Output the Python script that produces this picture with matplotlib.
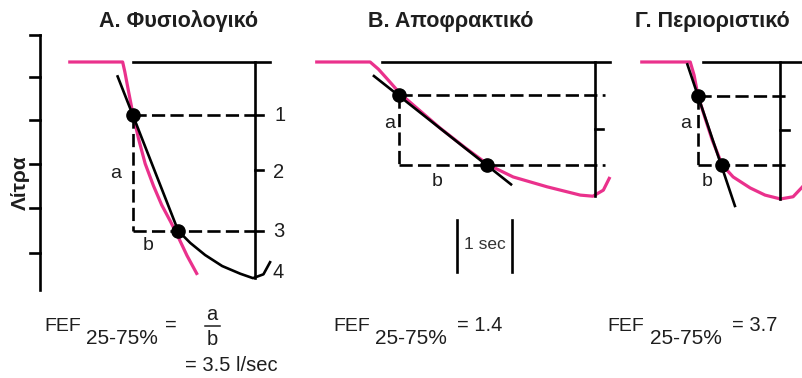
import numpy as np
import matplotlib
matplotlib.use('Agg')
import matplotlib.pyplot as plt

W, H = 803, 378
PX = 55.0        # pixels per second and per litre
Y0 = 62          # pixel row where v = 0

PINK = '#ea318c'
INK = '#1e1e1e'
LW = 1.9
DASH = (0, (5, 2))

TITLES = ['Α. Φυσιολογικό', 'Β. Αποφρακτικό', 'Γ. Περιοριστικό']
TITLE_X = [179, 451, 712]
PANEL_T0 = [1.24, 5.73, 11.64]   # start of each trace, s

# left "Λίτρα" axis (global time, litres)
LEFT_AXIS_T = 0.73
LEFT_TICKS = [-0.49, 0.27, 1.05, 1.85, 2.65, 3.47]
LEFT_BOTTOM = 4.15

# ── A. normal ──────────────────────────────────────────────────────────────
A_PINK_T = [0, 0.99, 1.03, 1.10, 1.18, 1.28, 1.40, 1.55, 1.70, 1.86, 1.99, 2.16, 2.35]
A_PINK_V = [0, 0, 0.18, 0.55, 0.96, 1.40, 1.85, 2.25, 2.60, 2.90, 3.16, 3.52, 3.87]
A_TAIL_T = [2.00, 2.22, 2.49, 2.80, 3.13, 3.36, 3.55, 3.67]
A_TAIL_V = [3.07, 3.29, 3.51, 3.71, 3.85, 3.93, 3.86, 3.64]
A_FIT_T = [0.89, 2.00]
A_FIT_V = [0.24, 3.07]
A_DOT_T = [1.18, 2.00]
A_DOT_V = [0.96, 3.07]
A_SCALE_T = 3.40
A_SCALE_END = 3.93
A_TOP = [1.18, 3.67]
A_TICKS = [0.96, 1.96, 3.07]
A_LABELS = ['1', '2', '3', '4']
A_LABEL_V = [0.97, 2.00, 3.09, 3.82]
A_LABEL_T = [3.85, 3.83, 3.83, 3.82]

# ── B. obstructive ─────────────────────────────────────────────────────────
B_PINK_T = [0, 1.00, 1.15, 1.33, 1.55, 1.91, 2.27, 2.73, 3.15, 3.60, 4.22, 4.82, 5.05, 5.24, 5.36]
B_PINK_V = [0, 0, 0.13, 0.33, 0.58, 0.89, 1.20, 1.56, 1.87, 2.09, 2.27, 2.42, 2.44, 2.33, 2.09]
B_FIT_T = [1.05, 3.58]
B_FIT_V = [0.24, 2.24]
B_DOT_T = [1.52, 3.12]
B_DOT_V = [0.60, 1.87]
B_SCALE_T = 5.09
B_SCALE_END = 2.44
B_TOP = [1.22, 5.36]
B_MID = 1.22
B_DASH_END = 5.27

# ── Γ. restrictive ─────────────────────────────────────────────────────────
C_PINK_T = [0, 0.91, 0.98, 1.05, 1.18, 1.31, 1.49, 1.69, 2.00, 2.27, 2.55, 2.78, 2.95, 3.05]
C_PINK_V = [0, 0, 0.24, 0.61, 1.02, 1.42, 1.87, 2.09, 2.29, 2.42, 2.49, 2.45, 2.27, 2.11]
C_FIT_T = [0.85, 1.73]
C_FIT_V = [0.02, 2.64]
C_DOT_T = [1.05, 1.48]
C_DOT_V = [0.61, 1.87]
C_SCALE_T = 2.55
C_SCALE_END = 2.49
C_TOP = [1.15, 2.98]
C_MID = 1.24
C_DASH_END = 2.73

AB_POS = [((0.87, 2.02), (1.45, 3.33)),
          ((1.36, 1.11), (2.22, 2.18)),
          ((0.82, 1.11), (1.22, 2.18))]

FEF_VALUES = ['=', '= 1.4', '= 3.7']


def figtext(fig, x, y, s, **kw):
    fig.text(x / W, 1 - y / H, s, **kw)


def draw_box(ax, t0, dt, dv, scale_t, scale_end, top, dash_end):
    ax.plot([t0 + top[0], t0 + top[1]], [0, 0], color='black', lw=LW)
    ax.plot([t0 + scale_t, t0 + scale_t], [0, scale_end], color='black', lw=LW)
    for v in dv:
        ax.plot([t0 + dt[0], t0 + dash_end], [v, v], color='black', lw=LW, ls=DASH)
    ax.plot([t0 + dt[0], t0 + dt[0]], [dv[0], dv[1]], color='black', lw=LW, ls=DASH)


def main():
    plt.rcParams['font.family'] = ['Liberation Sans', 'DejaVu Sans']
    fig = plt.figure(figsize=(W / 100, H / 100), dpi=100)
    ax = fig.add_axes([0, 0, 1, 1])
    ax.set_xlim(0, W / PX)
    ax.set_ylim((H - Y0) / PX, -Y0 / PX)
    ax.axis('off')

    # left litre axis
    ax.plot([LEFT_AXIS_T, LEFT_AXIS_T], [LEFT_TICKS[0], LEFT_BOTTOM], color='black', lw=LW)
    for v in LEFT_TICKS:
        ax.plot([LEFT_AXIS_T - 0.19, LEFT_AXIS_T], [v, v], color='black', lw=LW)
    figtext(fig, 20, 183, 'Λίτρα', rotation=90, fontsize=15, fontweight='bold',
            ha='center', va='center', color=INK)

    panels = [
        (A_PINK_T, A_PINK_V, A_FIT_T, A_FIT_V, A_DOT_T, A_DOT_V),
        (B_PINK_T, B_PINK_V, B_FIT_T, B_FIT_V, B_DOT_T, B_DOT_V),
        (C_PINK_T, C_PINK_V, C_FIT_T, C_FIT_V, C_DOT_T, C_DOT_V),
    ]
    for i, (pt, pv, ft, fv, dt, dv) in enumerate(panels):
        t0 = PANEL_T0[i]
        ax.plot(t0 + np.array(pt), pv, color=PINK, lw=LW + 0.4, solid_capstyle='butt')
        ax.plot(t0 + np.array(ft), fv, color='black', lw=LW, solid_capstyle='butt')
        ax.plot(t0 + np.array(dt), dv, 'o', color='black', ms=9.5)
        (at, av), (bt, bv) = AB_POS[i]
        ax.text(t0 + at, av, 'a', fontsize=14, ha='center', va='center', color=INK)
        ax.text(t0 + bt, bv, 'b', fontsize=14, ha='center', va='center', color=INK)
        figtext(fig, TITLE_X[i], 27, TITLES[i], fontsize=15.5, fontweight='bold',
                ha='center', va='baseline', color=INK)

    # A: black tail of the curve + litre scale
    t0 = PANEL_T0[0]
    ax.plot(t0 + np.array(A_TAIL_T), A_TAIL_V, color='black', lw=LW)
    draw_box(ax, t0, A_DOT_T, A_DOT_V, A_SCALE_T, A_SCALE_END, A_TOP, A_SCALE_T)
    for v in A_TICKS:
        ax.plot([t0 + A_SCALE_T, t0 + A_SCALE_T + 0.15], [v, v], color='black', lw=LW)
    for s, lt, lv in zip(A_LABELS, A_LABEL_T, A_LABEL_V):
        ax.text(t0 + lt, lv, s, fontsize=14.5, ha='center', va='center', color=INK)

    # B and Γ boxes
    for t0, dt, dv, st, se, top, de, mid in [
            (PANEL_T0[1], B_DOT_T, B_DOT_V, B_SCALE_T, B_SCALE_END, B_TOP, B_DASH_END, B_MID),
            (PANEL_T0[2], C_DOT_T, C_DOT_V, C_SCALE_T, C_SCALE_END, C_TOP, C_DASH_END, C_MID)]:
        draw_box(ax, t0, dt, dv, st, se, top, de)
        ax.plot([t0 + st, t0 + de - 0.03], [mid, mid], color='black', lw=LW)

    # 1 sec scale bar
    t0 = PANEL_T0[1]
    for t in (2.58, 3.58):
        ax.plot([t0 + t, t0 + t], [2.87, 3.82], color='black', lw=LW)
    ax.text(t0 + 3.09, 3.31, '1 sec', fontsize=12.5, ha='center', va='center', color='#333333')

    # FEF formulas
    fef_x = [44, 333, 607]
    sub_x = [86, 375, 650]
    eq_x = [165, 457, 732]
    for i in range(3):
        figtext(fig, fef_x[i], 331, 'FEF', fontsize=14, va='baseline', color=INK)
        figtext(fig, sub_x[i], 344, '25-75%', fontsize=15, va='baseline', color=INK)
        figtext(fig, eq_x[i], 331, FEF_VALUES[i], fontsize=14.5, va='baseline', color=INK)
    figtext(fig, 212, 320, 'a', fontsize=14.5, ha='center', va='baseline', color=INK)
    figtext(fig, 212, 345, 'b', fontsize=14.5, ha='center', va='baseline', color=INK)
    fig.add_artist(plt.Line2D([205 / W, 220 / W], [1 - 326 / H, 1 - 326 / H],
                              color=INK, lw=1.1))
    figtext(fig, 185, 371, '= 3.5 l/sec', fontsize=14.5, va='baseline', color=INK)

    fig.savefig('out.png', dpi=100)


if __name__ == '__main__':
    main()
